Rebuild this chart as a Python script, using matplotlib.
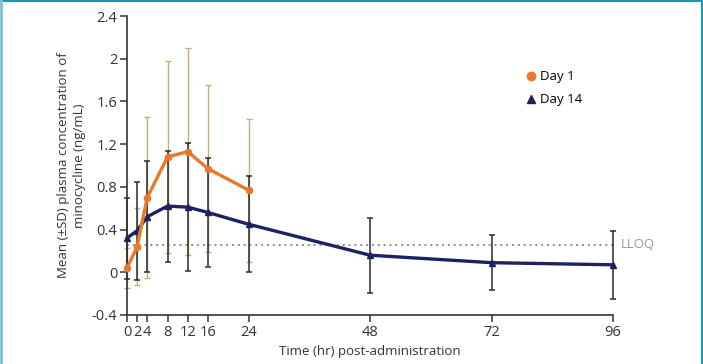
import matplotlib
matplotlib.use("Agg")
import matplotlib.pyplot as plt
from matplotlib.lines import Line2D

plt.rcParams['font.family'] = ['Open Sans', 'DejaVu Sans']

# Data
time_day1 = [0, 2, 4, 8, 12, 16, 24]
mean_day1 = [0.04, 0.24, 0.70, 1.08, 1.13, 0.97, 0.77]
sd_day1 = [0.19, 0.36, 0.75, 0.90, 0.97, 0.78, 0.67]

time_day14 = [0, 2, 4, 8, 12, 16, 24, 48, 72, 96]
mean_day14 = [0.32, 0.39, 0.52, 0.62, 0.61, 0.56, 0.45, 0.16, 0.09, 0.07]
sd_day14 = [0.38, 0.46, 0.52, 0.52, 0.60, 0.51, 0.45, 0.35, 0.26, 0.32]

lloq = 0.26
x_ticks = [0, 2, 4, 8, 12, 16, 24, 48, 72, 96]
y_ticks = [-0.4, 0, 0.4, 0.8, 1.2, 1.6, 2.0, 2.4]
y_tick_labels = ["-0.4", "0", "0.4", "0.8", "1.2", "1.6", "2", "2.4"]

orange = "#E8792A"
navy = "#1E2162"
tan = "#C9AE82"
errdark = "#2b2b2b"

fig = plt.figure(figsize=(7.03, 3.64), dpi=100)
ax = fig.add_axes([127/703, 1-315/364, (613-127)/703, (315-16)/364])

# LLOQ line
ax.plot([0, 96], [lloq, lloq], linestyle=(0, (1, 2)), color="#8c8c8c", lw=1.4, zorder=1,
        clip_on=False)
ax.text(97.5, lloq, "LLOQ", color="#999999", fontsize=9.5, va="center", ha="left")

# Error bars and lines
ax.errorbar(time_day1, mean_day1, yerr=sd_day1, fmt='none', ecolor=tan, elinewidth=1.0,
            capsize=2.3, capthick=1.0, zorder=2, clip_on=False)
ax.errorbar(time_day14, mean_day14, yerr=sd_day14, fmt='none', ecolor=errdark, elinewidth=1.1,
            capsize=2.3, capthick=1.1, zorder=2, clip_on=False)
ax.plot(time_day14, mean_day14, color=navy, lw=2.4, marker='^', ms=4, zorder=3, clip_on=False)
ax.plot(time_day1, mean_day1, color=orange, lw=2.4, marker='o', ms=4.5, zorder=4, clip_on=False)

ax.set_xlim(0, 96)
ax.set_ylim(-0.4, 2.4)
ax.set_xticks(x_ticks)
ax.set_xticklabels([str(t) for t in x_ticks])
ax.set_yticks(y_ticks)
ax.set_yticklabels(y_tick_labels)
ax.tick_params(axis='both', direction='out', length=5, width=1.1, color='#333333',
               labelsize=10.5, labelcolor='#333333', pad=2)

for s in ['top', 'right']:
    ax.spines[s].set_visible(False)
for s in ['left', 'bottom']:
    ax.spines[s].set_color('#333333')
    ax.spines[s].set_linewidth(1.2)

ax.set_ylabel("Mean (±SD) plasma concentration of\nminocycline (ng/mL)", fontsize=9.5,
              color='#333333', linespacing=1.3)
ax.yaxis.set_label_coords(-0.084, 0.5)
ax.set_xlabel("Time (hr) post-administration", fontsize=9.5, color='#333333')
ax.xaxis.set_label_coords((370-127)/(613-127), -0.1)

handles = [Line2D([], [], color=orange, marker='o', ls='none', ms=6),
           Line2D([], [], color=navy, marker='^', ls='none', ms=6)]
ax.legend(handles, ["Day 1", "Day 14"], loc='upper left',
          bbox_to_anchor=((518-127)/(613-127), 1-(65-16)/(315-16)), frameon=False,
          fontsize=9.5, handletextpad=0.1, labelspacing=0.75, handlelength=1.2,
          borderaxespad=0)

# Frame border
fig.add_artist(Line2D([0, 1], [0.998, 0.998], transform=fig.transFigure, color="#1a9aae", lw=1.5))
fig.add_artist(Line2D([0.0015, 0.0015], [0, 1], transform=fig.transFigure, color="#7cc4cf", lw=2))
fig.add_artist(Line2D([0.9985, 0.9985], [0, 1], transform=fig.transFigure, color="#1a9aae", lw=1.5))

fig.savefig("out.png", dpi=100)
